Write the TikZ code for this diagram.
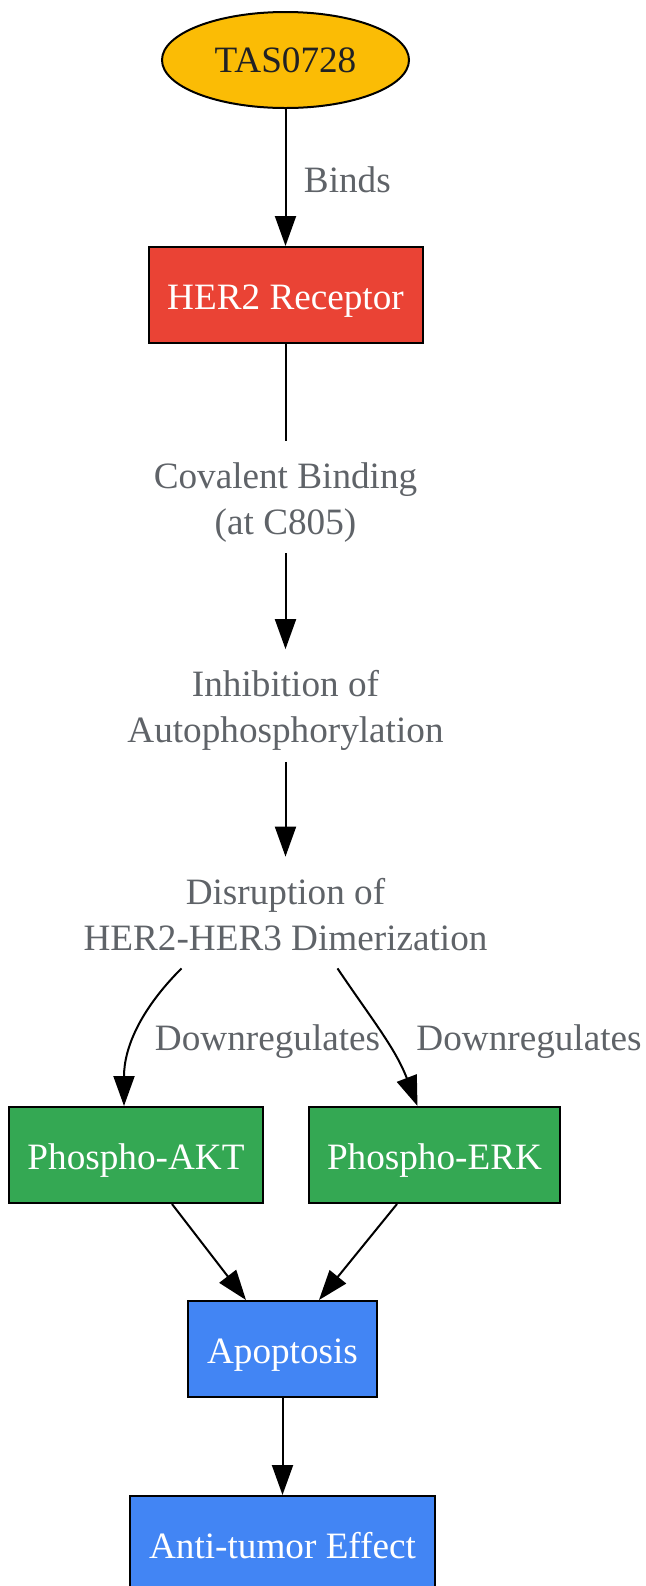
\documentclass[tikz,border=0pt]{standalone}
\usepackage{fontspec}
\setmainfont{Liberation Serif}
\usetikzlibrary{positioning,arrows.meta,shapes.geometric,calc}
\definecolor{drugyellow}{HTML}{FBBC05}
\definecolor{receptorred}{HTML}{EA4335}
\definecolor{signalgreen}{HTML}{34A853}
\definecolor{outcomeblue}{HTML}{4285F4}
\definecolor{labelgray}{HTML}{5F6368}
\definecolor{darktext}{HTML}{202124}

\begin{document}
\begin{tikzpicture}[x=0.5pt,y=0.5pt,font=\fontsize{18.6}{23}\selectfont]
 \tikzset{arrow/.style={line width=1pt,-{Triangle[length=15pt,width=10.5pt]}},
  link/.style={line width=1pt},
  box/.style={draw,rectangle,line width=1pt,minimum height=48pt,text=white,text height=16.5pt,text depth=2pt},
  stage/.style={align=center,text=labelgray,inner ysep=5pt,text height=41.5pt,text depth=4.5pt},
  lbl/.style={text=labelgray}}
 \useasboundingbox (0,0) rectangle (646,-1586);
 \node[draw,ellipse,line width=1pt,fill=drugyellow,text=darktext,minimum width=123.5pt,minimum height=48pt] (tas) at (285.5,-60) {TAS0728};
 \node[box,fill=receptorred,minimum width=137pt] (her2) at (285.5,-295) {HER2 Receptor};
 \node[stage] (cov) at (285.5,-497) {Covalent Binding\\(at C805)};
 \node[stage] (inh) at (285.5,-705.5) {Inhibition of\\Autophosphorylation};
 \node[stage] (dis) at (285.5,-913) {Disruption of\\HER2-HER3 Dimerization};
 \node[box,fill=signalgreen,minimum width=127pt] (akt) at (136,-1155) {Phospho-AKT};
 \node[box,fill=signalgreen,minimum width=125.5pt] (erk) at (434.5,-1155) {Phospho-ERK};
 \node[box,fill=outcomeblue,minimum width=94.5pt] (apo) at (282.5,-1349) {Apoptosis};
 \node[box,fill=outcomeblue,minimum width=152.5pt] (anti) at (282.5,-1544) {Anti-tumor Effect};

 \draw[arrow] (tas) to node [lbl,right,xshift=5.4pt,yshift=-1.2pt] {Binds} (her2);
 \draw[link] (her2) to (cov);
 \draw[arrow] (cov) to (inh);
 \draw[arrow] (inh) to (dis);
 \draw[arrow] ($(dis.south)+(-52pt,0.5pt)$) to[out=-135,in=90] node [lbl,right,xshift=5pt,yshift=-5.5pt] {Downregulates} ($(akt.north)+(-6pt,0)$);
 \draw[arrow] ($(dis.south)+(26pt,0.5pt)$) to[out=-56,in=111] node [lbl,right,xshift=13.3pt,yshift=-3.6pt] {Downregulates} ($(erk.north)+(-8.5pt,0)$);
 \draw[arrow] ($(akt.south)+(18pt,0)$) to ($(apo.north)+(-18.25pt,0)$);
 \draw[arrow] ($(erk.south)+(-18.75pt,0)$) to ($(apo.north)+(18.25pt,0)$);
 \draw[arrow] (apo) to (anti);
\end{tikzpicture}
\end{document}
